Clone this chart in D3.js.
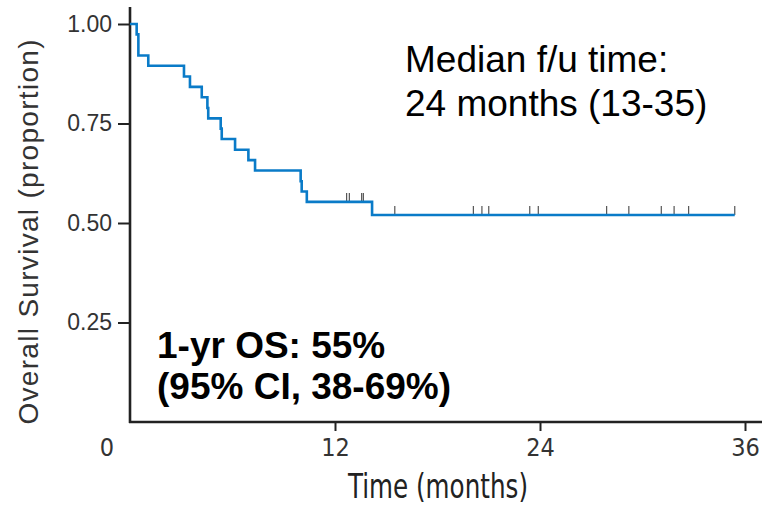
<!DOCTYPE html>
<html>
<head>
<meta charset="utf-8">
<script src="https://cdn.jsdelivr.net/npm/d3@7"></script>
<style>
  body { margin: 0; background: #fff; }
  svg { display: block; }
</style>
</head>
<body>
<div id="chart"></div>
<script>
// KM step data (months, survival proportion)
var stepTimes = [0, 0.39, 0.49, 1.07, 3.16, 3.51, 4.2, 4.53, 4.58, 5.31, 5.37, 6.15, 6.93, 7.32, 9.99, 10.05, 10.35, 14.17, 35.4];
var stepSurv  = [1, 0.974, 0.921, 0.895, 0.868, 0.842, 0.816, 0.789, 0.763, 0.737, 0.711, 0.684, 0.658, 0.632, 0.605, 0.579, 0.553, 0.520, 0.520];
// censored observations (months)
var censorTimes = [12.68, 12.84, 13.56, 13.66, 15.5, 20.1, 20.6, 21.0, 23.4, 23.9, 27.9, 29.2, 31.1, 31.85, 32.7, 35.4];
var yTicks = [0.25, 0.50, 0.75, 1.00];
var xTicks = [12, 24, 36];

var W = 765, H = 506;
var narrow = "'Liberation Sans Narrow', 'Arial Narrow', 'DejaVu Sans Condensed', sans-serif";
var sans = "'Liberation Sans', Arial, sans-serif";

var svg = d3.select("#chart").append("svg")
            .attr("width", W)
            .attr("height", H);

var x = d3.scaleLinear().domain([0, 36]).range([130, 745]);
var y = d3.scaleLinear().domain([0, 1]).range([422, 24]);

// y axis
var yAxis = d3.axisLeft(y)
              .tickValues(yTicks)
              .tickFormat(d3.format(".2f"))
              .tickSize(12)
              .tickPadding(6);
var gy = svg.append("g").attr("transform", "translate(" + x(0) + ",0)").call(yAxis);
gy.select(".domain").remove();
gy.selectAll(".tick line").attr("stroke", "#222").attr("stroke-width", 2);
gy.selectAll(".tick text")
  .attr("font-family", sans)
  .attr("font-size", "23px")
  .attr("fill", "#333");

// x axis
var xAxis = d3.axisBottom(x)
              .tickValues(xTicks)
              .tickSize(9)
              .tickPadding(7);
var gx = svg.append("g").attr("transform", "translate(0," + y(0) + ")").call(xAxis);
gx.select(".domain").remove();
gx.selectAll(".tick line").attr("stroke", "#222").attr("stroke-width", 2);
gx.selectAll(".tick text")
  .attr("font-family", narrow)
  .attr("font-size", "25px")
  .attr("fill", "#333");

// the 0 label sits left of the corner
svg.append("text").text("0")
   .attr("x", x(0) - 23)
   .attr("y", y(0) + 34)
   .attr("text-anchor", "middle")
   .attr("font-family", narrow)
   .attr("font-size", "25px")
   .attr("fill", "#333");

// axis lines
svg.append("line")
   .attr("x1", x(0)).attr("x2", x(0))
   .attr("y1", y(1) - 17).attr("y2", y(0) + 1)
   .attr("stroke", "#222").attr("stroke-width", 2.6);
svg.append("line")
   .attr("x1", x(0) - 1).attr("x2", W - 3)
   .attr("y1", y(0)).attr("y2", y(0))
   .attr("stroke", "#222").attr("stroke-width", 2.6);

// survival curve
var kmData = stepTimes.map(function(t, i) { return { t: t, s: stepSurv[i] }; });
var line = d3.line()
             .x(function(d) { return x(d.t); })
             .y(function(d) { return y(d.s); })
             .curve(d3.curveStepAfter);

// censor marks
function survAt(t) {
  var s = 1;
  for (var i = 0; i < stepTimes.length; i++) {
    if (stepTimes[i] <= t) s = stepSurv[i];
  }
  return s;
}
svg.append("g").selectAll("line")
   .data(censorTimes)
   .enter()
   .append("line")
   .attr("x1", function(d) { return x(d); })
   .attr("x2", function(d) { return x(d); })
   .attr("y1", function(d) { return y(survAt(d)) - 9; })
   .attr("y2", function(d) { return y(survAt(d)); })
   .attr("stroke", "#555")
   .attr("stroke-width", 1.2);

svg.append("path")
   .datum(kmData)
   .attr("d", line)
   .attr("fill", "none")
   .attr("stroke", "#0a7bc8")
   .attr("stroke-width", 2.6);

// axis titles
svg.append("text").text("Time (months)")
   .attr("x", 348)
   .attr("y", 498)
   .attr("font-family", narrow)
   .attr("font-size", "33px")
   .attr("textLength", 180)
   .attr("lengthAdjust", "spacingAndGlyphs")
   .attr("fill", "#222");

svg.append("text").text("Overall Survival (proportion)")
   .attr("transform", "translate(38,232) rotate(-90)")
   .attr("text-anchor", "middle")
   .attr("font-family", sans)
   .attr("font-size", "28px")
   .attr("textLength", 385)
   .attr("lengthAdjust", "spacing")
   .attr("fill", "#333");

// annotations
svg.append("text").text("Median f/u time:")
   .attr("x", 405).attr("y", 72)
   .attr("font-family", sans)
   .attr("font-size", "37px")
   .attr("fill", "#000");
svg.append("text").text("24 months (13-35)")
   .attr("x", 405).attr("y", 116)
   .attr("font-family", sans)
   .attr("font-size", "37px")
   .attr("fill", "#000");

svg.append("text").text("1-yr OS: 55%")
   .attr("x", 157).attr("y", 358)
   .attr("font-family", sans)
   .attr("font-weight", "bold")
   .attr("font-size", "37px")
   .attr("fill", "#000");
svg.append("text").text("(95% CI, 38-69%)")
   .attr("x", 157).attr("y", 399)
   .attr("font-family", sans)
   .attr("font-weight", "bold")
   .attr("font-size", "37px")
   .attr("fill", "#000");
</script>
</body>
</html>
